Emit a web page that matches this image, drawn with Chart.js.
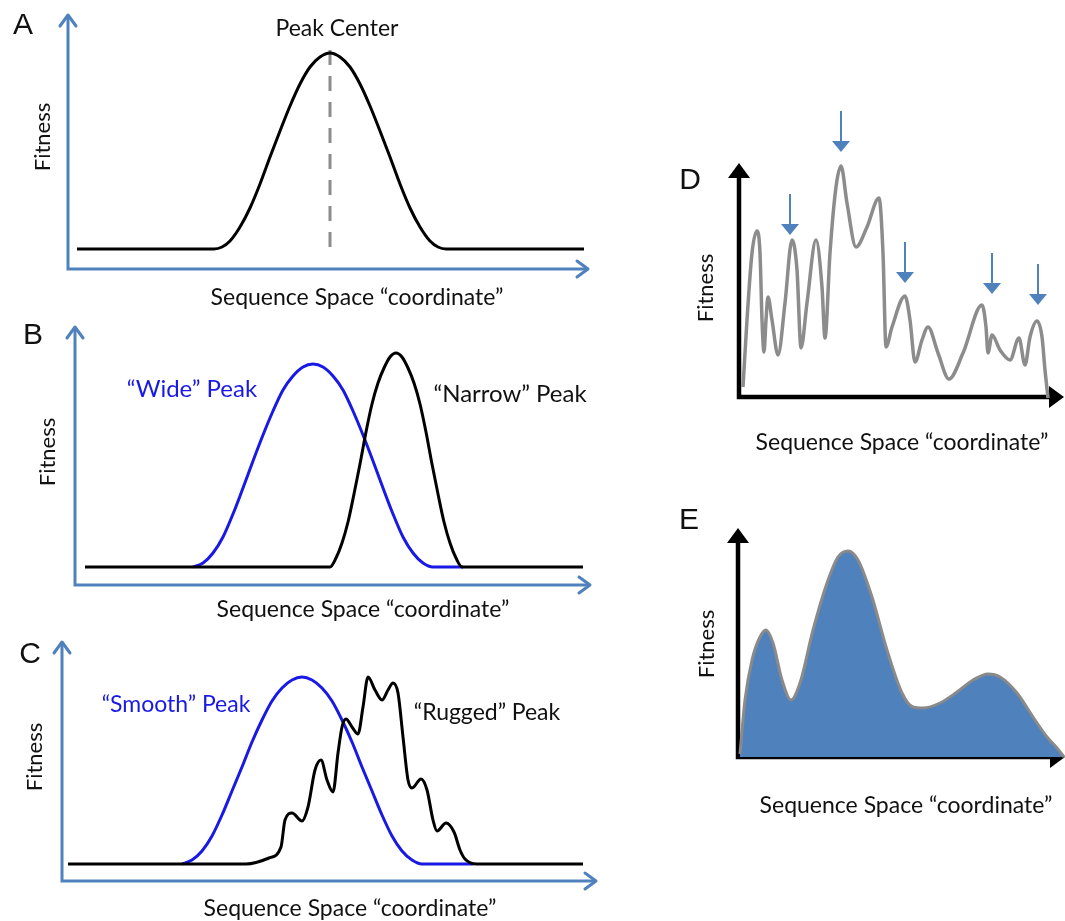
<!DOCTYPE html>
<html>
<head>
<meta charset="utf-8">
<script src="https://cdn.jsdelivr.net/npm/chart.js@4.4.1/dist/chart.umd.min.js"></script>
<style>
  body { margin: 0; background: #fff; width: 1065px; height: 921px; position: relative; overflow: hidden; }
  canvas { position: absolute; left: 0; top: 0; }
  .t { position: absolute; white-space: nowrap; line-height: 1; font-family: Lato, "Open Sans", sans-serif; font-size: 23px; color: #111; transform: translate(-50%, -50%); }
  .big { font-family: "Liberation Sans", Arial, sans-serif; font-size: 30px; }
  .rot { transform: translate(-50%, -50%) rotate(-90deg); font-size: 22px; }
  .blue { color: #1919e6; }
  .lg { font-size: 24px; }
</style>
</head>
<body>
<canvas id="chartA" width="1065" height="921"></canvas>
<canvas id="chartB" width="1065" height="921"></canvas>
<canvas id="chartC" width="1065" height="921"></canvas>
<canvas id="chartD" width="1065" height="921"></canvas>
<canvas id="chartE" width="1065" height="921"></canvas>

<div class="t big" style="left:23px;top:24px">A</div>
<div class="t" style="left:337px;top:27px">Peak Center</div>
<div class="t rot" style="left:42px;top:137px">Fitness</div>
<div class="t" style="left:357px;top:296px">Sequence Space “coordinate”</div>

<div class="t big" style="left:33px;top:334px">B</div>
<div class="t blue lg" style="left:192px;top:388px">“Wide” Peak</div>
<div class="t lg" style="left:510px;top:393px">“Narrow” Peak</div>
<div class="t rot" style="left:47px;top:452px">Fitness</div>
<div class="t" style="left:363px;top:608px">Sequence Space “coordinate”</div>

<div class="t big" style="left:30px;top:653px">C</div>
<div class="t blue" style="left:176px;top:703px">“Smooth” Peak</div>
<div class="t" style="left:487px;top:711px">“Rugged” Peak</div>
<div class="t rot" style="left:34px;top:757px">Fitness</div>
<div class="t" style="left:350px;top:907px">Sequence Space “coordinate”</div>

<div class="t big" style="left:690px;top:179px">D</div>
<div class="t rot" style="left:705px;top:288px">Fitness</div>
<div class="t" style="left:902px;top:441px">Sequence Space “coordinate”</div>

<div class="t big" style="left:689px;top:519px">E</div>
<div class="t rot" style="left:706px;top:644px">Fitness</div>
<div class="t" style="left:906px;top:804px">Sequence Space “coordinate”</div>

<script>

// A - single peak
const peakA_x = [9, 146, 154, 162, 172, 182, 192, 202, 212, 222, 232, 242, 252, 262, 272, 282, 292, 302, 312, 322, 332, 342, 352, 362, 370, 378, 516];
const peakA_y = [20, 20, 22, 28, 42, 61, 85, 112, 138, 163, 185, 202, 212, 216, 212, 202, 185, 163, 138, 112, 85, 61, 42, 28, 22, 20, 20];
const centerA_x = [262, 262];
const centerA_y = [22, 219];

// B - wide vs narrow
const wideB_x = [118, 128, 138, 148, 158, 168, 178, 188, 198, 208, 218, 228, 238, 248, 258, 268, 278, 288, 298, 308, 318, 328, 338, 348, 358, 388];
const wideB_y = [18, 22, 32, 48, 71, 97, 124, 150, 174, 195, 209, 218, 221, 218, 209, 195, 174, 150, 124, 97, 71, 48, 32, 22, 18, 18];
const narrowB_x = [10, 255, 261, 267, 273, 279, 285, 291, 297, 303, 309, 315, 321, 327, 333, 339, 345, 351, 357, 363, 369, 375, 381, 387, 508];
const narrowB_y = [18, 18, 27, 42, 63, 91, 121, 153, 181, 202, 217, 228, 232, 228, 217, 202, 181, 153, 121, 91, 63, 42, 27, 18, 18];

// C - smooth vs rugged
const smoothC_x = [120, 130, 140, 150, 160, 170, 180, 190, 200, 210, 220, 230, 240, 250, 260, 270, 280, 290, 300, 310, 320, 330, 340, 350, 360, 411];
const smoothC_y = [17, 21, 30, 45, 66, 90, 114, 139, 161, 180, 193, 201, 204, 201, 193, 180, 161, 139, 114, 90, 66, 45, 30, 21, 17, 17];
const ruggedC_x = [6, 184, 207, 219, 223, 230, 240, 246, 253, 259, 265, 271, 276, 280, 284, 290, 296, 301, 306, 313, 320, 326, 331, 336, 341, 346, 350, 359, 365, 371, 375, 384, 392, 398, 403, 415, 521];
const ruggedC_y = [17, 17, 23, 34, 61, 68, 60, 74, 111, 121, 101, 89, 128, 154, 162, 154, 147, 174, 204, 191, 181, 191, 198, 188, 144, 101, 93, 102, 91, 61, 50, 58, 49, 31, 22, 17, 17];

// D - rugged landscape with local optima
const landD_x = [4, 8, 13, 18, 21, 23, 25, 27, 29, 33, 39, 46, 53, 58, 62, 68, 77, 83, 86, 91, 97, 102, 108, 117, 128, 140, 144, 147, 153, 166, 171, 176, 183, 189, 199, 210, 224, 243, 247, 249, 253, 261, 271, 280, 286, 291, 298, 303, 306, 309];
const landD_y = [10, 77, 144, 166, 144, 77, 45, 77, 100, 77, 42, 94, 157, 127, 49, 94, 157, 110, 59, 144, 210, 231, 194, 150, 170, 199, 144, 50, 70, 101, 77, 35, 57, 70, 44, 18, 44, 92, 70, 44, 62, 47, 37, 59, 32, 60, 76, 60, 27, -1];
const optimaD_x = [51, 102, 166, 253, 299];
const optimaD_tip = [162, 245, 114, 103, 92];

// E - smooth multi-peak landscape
const landE_x = [2, 7, 14, 22, 28, 35, 44, 53, 62, 75, 89, 100, 110, 120, 134, 149, 164, 175, 185, 202, 219, 235, 250, 262, 279, 295, 309, 319, 326];
const landE_y = [3, 57, 97, 120, 127, 114, 77, 57, 74, 127, 174, 200, 206, 197, 160, 107, 64, 50, 49, 54, 65, 77, 83, 80, 64, 40, 20, 9, 0];

const axisBlue = '#4f81bd';
const peakBlue = '#1919e6';

function pts(xs, ys) {
  return xs.map((x, i) => ({ x: x, y: ys[i] }));
}

// axis lines with arrow heads on the chart area edges
const arrowAxes = {
  id: 'arrowAxes',
  beforeDatasetsDraw(chart, args, o) {
    const { left, right, top, bottom } = chart.chartArea;
    const ctx = chart.ctx;
    ctx.save();
    ctx.strokeStyle = o.color;
    ctx.fillStyle = o.color;
    ctx.lineWidth = o.width;
    ctx.lineJoin = 'miter';
    if (o.filled) {
      ctx.beginPath();
      ctx.moveTo(left, top + o.head - 1);
      ctx.lineTo(left, bottom);
      ctx.lineTo(right - o.head + 1, bottom);
      ctx.stroke();
      ctx.beginPath();
      ctx.moveTo(left, top);
      ctx.lineTo(left - o.half, top + o.head);
      ctx.lineTo(left + o.half, top + o.head);
      ctx.closePath();
      ctx.fill();
      ctx.beginPath();
      ctx.moveTo(right, bottom);
      ctx.lineTo(right - o.head, bottom - o.half);
      ctx.lineTo(right - o.head, bottom + o.half);
      ctx.closePath();
      ctx.fill();
    } else {
      ctx.beginPath();
      ctx.moveTo(left, top + 1);
      ctx.lineTo(left, bottom);
      ctx.lineTo(right - 1, bottom);
      ctx.stroke();
      ctx.lineCap = 'round';
      ctx.lineJoin = 'round';
      ctx.beginPath();
      ctx.moveTo(left - o.half, top + o.head);
      ctx.lineTo(left, top);
      ctx.lineTo(left + o.half, top + o.head);
      ctx.stroke();
      ctx.beginPath();
      ctx.moveTo(right - o.head, bottom - o.half);
      ctx.lineTo(right, bottom);
      ctx.lineTo(right - o.head, bottom + o.half);
      ctx.stroke();
    }
    ctx.restore();
  }
};

// little down arrows marking the local optima in D
const optimaArrows = {
  id: 'optimaArrows',
  afterDatasetsDraw(chart) {
    const ctx = chart.ctx;
    const xs = chart.scales.x, ys = chart.scales.y;
    ctx.save();
    ctx.strokeStyle = axisBlue;
    ctx.fillStyle = axisBlue;
    ctx.lineWidth = 2;
    optimaD_x.forEach((v, i) => {
      const px = xs.getPixelForValue(v);
      const tip = ys.getPixelForValue(optimaD_tip[i]);
      ctx.beginPath();
      ctx.moveTo(px, tip - 41);
      ctx.lineTo(px, tip - 9);
      ctx.stroke();
      ctx.beginPath();
      ctx.moveTo(px, tip);
      ctx.lineTo(px - 9, tip - 11);
      ctx.lineTo(px + 9, tip - 11);
      ctx.closePath();
      ctx.fill();
    });
    ctx.restore();
  }
};

function line(data, color, width, extra) {
  return Object.assign({
    data: data,
    borderColor: color,
    borderWidth: width,
    pointRadius: 0,
    fill: false,
    cubicInterpolationMode: 'monotone',
    clip: false
  }, extra || {});
}

// box: origin of the axes (x0, y0) and the arrow tips (x1, y1) in page pixels
function makeChart(id, box, datasets, axis, extraPlugins) {
  return new Chart(document.getElementById(id), {
    type: 'line',
    data: { datasets: datasets },
    options: {
      responsive: false,
      animation: false,
      events: [],
      layout: { padding: { left: box.x0, right: 1065 - box.x1, top: box.y1, bottom: 921 - box.y0 } },
      scales: {
        x: { type: 'linear', display: false, min: 0, max: box.x1 - box.x0 },
        y: { type: 'linear', display: false, min: 0, max: box.y0 - box.y1 }
      },
      plugins: {
        legend: { display: false },
        tooltip: { enabled: false },
        arrowAxes: axis
      }
    },
    plugins: [arrowAxes].concat(extraPlugins || [])
  });
}

const blueAxis = { color: axisBlue, width: 3, head: 11, half: 8, filled: false };
const blackAxis = { color: '#000', width: 4.5, head: 15, half: 11, filled: true };

makeChart('chartA', { x0: 68, y0: 269, x1: 588, y1: 15 }, [
  line(pts(peakA_x, peakA_y), '#000', 3),
  line(pts(centerA_x, centerA_y), '#8c8c8c', 3, { borderDash: [15, 11], cubicInterpolationMode: 'default', tension: 0 })
], blueAxis);

makeChart('chartB', { x0: 75, y0: 585, x1: 590, y1: 327 }, [
  line(pts(narrowB_x, narrowB_y), '#000', 3),
  line(pts(wideB_x, wideB_y), peakBlue, 3)
], blueAxis);

makeChart('chartC', { x0: 62, y0: 881, x1: 596, y1: 642 }, [
  line(pts(ruggedC_x, ruggedC_y), '#000', 3),
  line(pts(smoothC_x, smoothC_y), peakBlue, 3)
], blueAxis);

makeChart('chartD', { x0: 739, y0: 397, x1: 1064, y1: 163 }, [
  line(pts(landD_x, landD_y), '#8c8c8c', 3.5)
], blackAxis, [optimaArrows]);

makeChart('chartE', { x0: 738, y0: 757, x1: 1065, y1: 528 }, [
  line(pts(landE_x, landE_y), '#8a8a8a', 3, { fill: 'origin', backgroundColor: axisBlue })
], blackAxis);
</script>
</body>
</html>
